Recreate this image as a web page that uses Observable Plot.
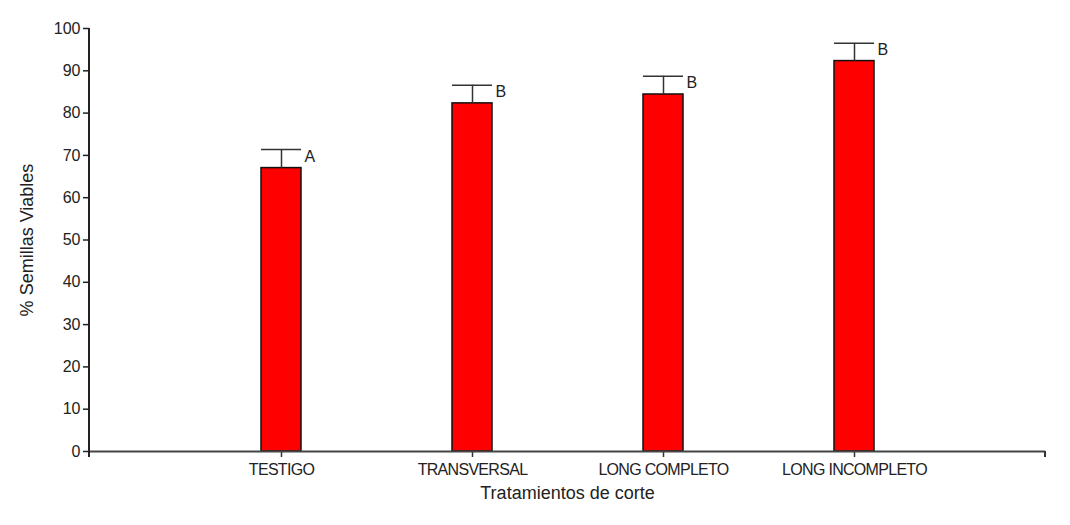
<!DOCTYPE html>
<html>
<head>
<meta charset="utf-8">
<script src="https://cdn.jsdelivr.net/npm/d3@7"></script>
<script src="https://cdn.jsdelivr.net/npm/@observablehq/plot@0.6"></script>
<style>
  html, body { margin: 0; padding: 0; background: #fff; }
  #chart svg { display: block; font-family: "Liberation Sans", Arial, sans-serif; }
  g[aria-label="x-axis tick label"] text { letter-spacing: -0.7px; }
</style>
</head>
<body>
<div id="chart"></div>
<script>
const categories = ["TESTIGO", "TRANSVERSAL", "LONG COMPLETO", "LONG INCOMPLETO"];
const means = [67, 82.3, 84.4, 92.3];
const upper = [71.4, 86.6, 88.7, 96.5];
const letters = ["A", "B", "B", "B"];
const yTicks = [0, 10, 20, 30, 40, 50, 60, 70, 80, 90, 100];
const xTitle = "Tratamientos de corte";
const yTitle = "% Semillas Viables";

const data = categories.map((c, i) => ({cat: c, mean: means[i], up: upper[i], letter: letters[i]}));

const chart = Plot.plot({
  width: 1070,
  height: 525,
  marginLeft: 89,
  marginRight: 25,
  marginTop: 28,
  marginBottom: 74,
  style: {background: "#fff", color: "#222", fontFamily: "Liberation Sans, Arial, sans-serif"},
  x: {domain: categories, paddingInner: 0.791, paddingOuter: 0.8955, align: 0.5, axis: null},
  y: {domain: [0, 100], axis: null},
  marks: [
    Plot.barY(data, {x: "cat", y: "mean", fill: "#ff0000", stroke: "#111", strokeWidth: 1.5}),
    Plot.ruleX(data, {x: "cat", y1: "mean", y2: "up", stroke: "#333", strokeWidth: 1.5}),
    Plot.tickY(data, {x: "cat", y: "up", stroke: "#333", strokeWidth: 1.5}),
    Plot.text(data, {x: "cat", y: "up", text: "letter", dx: 23, dy: 7, textAnchor: "start", fontSize: 16, fill: "#222"}),
    Plot.axisY({ticks: yTicks, tickSize: 6, tickPadding: 3, fontSize: 16, stroke: "#222", strokeWidth: 1.5, label: null}),
    Plot.axisX({tickSize: 6, tickPadding: 6, fontSize: 16, stroke: "#333", strokeWidth: 1.5, label: null}),
    Plot.ruleY([0], {stroke: "#444", strokeWidth: 2}),
    Plot.text([xTitle], {frameAnchor: "bottom", dy: 47, fontSize: 18, fill: "#222"}),
    Plot.text([yTitle], {frameAnchor: "left", textAnchor: "middle", dx: -62, rotate: -90, fontSize: 18, fill: "#222"})
  ]
});

// y-axis line and end ticks of the x axis, positioned from the chart's own scales
const xs = chart.scale("x").range;
const ys = chart.scale("y").range;
const svg = d3.select(chart);
svg.append("line")
  .attr("x1", xs[0]).attr("x2", xs[0]).attr("y1", ys[1]).attr("y2", ys[0] + 6)
  .attr("stroke", "#222").attr("stroke-width", 2);
svg.append("line")
  .attr("x1", xs[1]).attr("x2", xs[1]).attr("y1", ys[0]).attr("y2", ys[0] + 6)
  .attr("stroke", "#333").attr("stroke-width", 2);

document.getElementById("chart").appendChild(chart);
</script>
</body>
</html>
